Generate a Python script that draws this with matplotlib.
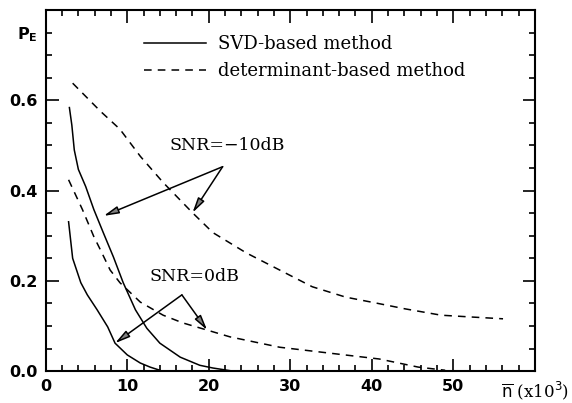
import numpy as np
import matplotlib.pyplot as plt
from matplotlib.ticker import MultipleLocator

# Error probability vs. number of samples (x10^3)

svd_m10_n = [2.9, 3.2, 3.5, 4.0, 4.9, 5.9, 7.1, 8.3, 9.5, 11.0, 12.4, 14.0, 16.5, 18.9, 20.5, 23.0]
svd_m10_p = [0.584, 0.545, 0.49, 0.447, 0.409, 0.358, 0.305, 0.253, 0.196, 0.136, 0.095, 0.062, 0.031, 0.013, 0.007, 0.0]

svd_0_n = [2.8, 3.3, 4.3, 5.1, 6.3, 7.6, 8.5, 10.0, 11.6, 12.8, 14.0]
svd_0_p = [0.331, 0.25, 0.196, 0.169, 0.136, 0.098, 0.062, 0.036, 0.018, 0.009, 0.002]

det_m10_n = [3.3, 6.7, 9.1, 11.6, 14.4, 18.0, 20.5, 24.6, 28.7, 32.7, 36.8, 40.5, 44.1, 48.5, 52.2, 56.1]
det_m10_p = [0.638, 0.576, 0.536, 0.476, 0.418, 0.351, 0.307, 0.262, 0.224, 0.187, 0.164, 0.151, 0.138, 0.124, 0.120, 0.116]

det_0_n = [2.8, 4.5, 5.9, 6.7, 7.9, 9.1, 11.6, 14.4, 16.8, 19.8, 22.6, 28.7, 34.8, 40.9, 45.7, 49.0]
det_0_p = [0.424, 0.358, 0.298, 0.269, 0.224, 0.196, 0.153, 0.124, 0.107, 0.091, 0.076, 0.053, 0.04, 0.027, 0.009, 0.002]

xticks = [0, 10, 20, 30, 40, 50, 60]
xticklabels = ['0', '10', '20', '30', '40', '50', r'$\overline{\rm n}$ (x10$^3$)']
yticks = [0.0, 0.2, 0.4, 0.6, 0.75]
yticklabels = ['0.0', '0.2', '0.4', '0.6', r'$\mathbf{P_E}$']

fig = plt.figure(figsize=(5.72, 4.03), dpi=100)
ax = fig.add_axes([0.080, 0.079, 0.855, 0.896])

lw = 1.1
ax.plot(svd_m10_n, svd_m10_p, 'k-', lw=lw, label='SVD-based method')
ax.plot(det_m10_n, det_m10_p, 'k', lw=lw, dashes=(5, 4), label='determinant-based method')
ax.plot(svd_0_n, svd_0_p, 'k-', lw=lw)
ax.plot(det_0_n, det_0_p, 'k', lw=lw, dashes=(5, 4))

ax.set_xlim(0, 60)
ax.set_ylim(0, 0.8)

ax.xaxis.set_minor_locator(MultipleLocator(2))
ax.yaxis.set_minor_locator(MultipleLocator(0.05))
ax.set_xticks(xticks)
ax.set_xticklabels(xticklabels)
ax.set_yticks(yticks)
ax.set_yticklabels(yticklabels)

ax.tick_params(which='both', direction='in', top=True, right=True, width=1.2)
ax.tick_params(which='major', length=9, labelsize=11.5, pad=6)
ax.tick_params(which='minor', length=4)
# P_E tick is only a label, keep its mark short
ax.yaxis.get_major_ticks()[-1].tick1line.set_markersize(4)
ax.yaxis.get_major_ticks()[-1].tick2line.set_markersize(4)
for lab in ax.get_xticklabels() + ax.get_yticklabels():
    lab.set_fontweight('bold')
last = ax.get_xticklabels()[-1]
last.set_fontfamily('DejaVu Serif')
last.set_fontweight('normal')
last.set_fontsize(12)
for s in ax.spines.values():
    s.set_linewidth(1.5)

leg = ax.legend(loc='upper left', bbox_to_anchor=(0.168, 0.975), frameon=False,
                handlelength=3.4, handletextpad=0.7, labelspacing=0.5,
                prop={'family': 'DejaVu Serif', 'size': 13})

arrow = dict(arrowstyle='-|>,head_length=0.9,head_width=0.22', fc='0.5', ec='k', lw=1.1,
             shrinkA=0, shrinkB=0)
txt = dict(ha='center', va='center', family='DejaVu Serif', fontsize=12.5)

ax.text(22.2, 0.50, 'SNR=\u221210dB', **txt)
ax.annotate('', xy=(18.0, 0.351), xytext=(21.7, 0.453), arrowprops=arrow)
ax.annotate('', xy=(7.1, 0.344), xytext=(21.7, 0.453), arrowprops=arrow)

ax.text(18.3, 0.21, 'SNR=0dB', **txt)
ax.annotate('', xy=(19.8, 0.091), xytext=(16.7, 0.169), arrowprops=arrow)
ax.annotate('', xy=(8.5, 0.062), xytext=(16.7, 0.169), arrowprops=arrow)

fig.savefig('out.png', dpi=100)
